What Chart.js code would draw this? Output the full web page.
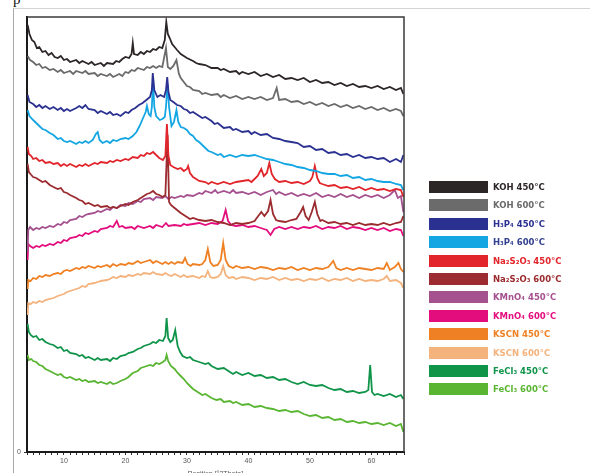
<!DOCTYPE html>
<html>
<head>
<meta charset="utf-8">
<script src="https://cdn.jsdelivr.net/npm/chart.js@4"></script>
<style>
  body { margin: 0; background: #fff; }
  #wrap { position: relative; width: 590px; height: 473px; overflow: hidden; background: #fff; }
  #chart { position: absolute; left: 0; top: 0; }
  #frame { position: absolute; left: 13px; top: 8px; width: 577px; height: 470px;
           border-top: 1px solid #d4d4d4; border-left: 1px solid #a8a8a8; }
  #cap { position: absolute; left: 13px; top: -9px; font: 15px "Liberation Serif", serif; color: #111; }
  #legend { position: absolute; left: 429px; top: 181px; }
  .row { position: absolute; left: 0; height: 12px; display: flex; align-items: center; white-space: nowrap; }
  .box { width: 59px; height: 12px; margin-right: 5px; }
  .lab { font: bold 8.5px "DejaVu Sans", sans-serif; }
</style>
</head>
<body>
<div id="wrap">
  <div id="frame"></div>
  <div id="cap">p</div>
  <canvas id="chart" width="590" height="480"></canvas>
  <div id="legend"></div>
</div>
<script>
// series names, legend order top to bottom
const seriesNames = ['KOH 450°C', 'KOH 600°C', 'H₃P₄ 450°C', 'H₃P₄ 600°C', 'Na₂S₂O₃ 450°C', 'Na₂S₂O₃ 600°C',
  'KMnO₄ 450°C', 'KMnO₄ 600°C', 'KSCN 450°C', 'KSCN 600°C', 'FeCl₃ 450°C', 'FeCl₃ 600°C'];
const lineColors = ['#2d2627', '#6b6b6b', '#2b3190', '#14a6e3', '#e2252b', '#9b2b2f',
  '#a5508f', '#e40d7e', '#ef8023', '#f4b27c', '#0f9449', '#5ab632'];
const textColors = ['#2d2627', '#6b6b6b', '#2b3190', '#33408f', '#e2252b', '#9b2b2f',
  '#a5508f', '#e40d7e', '#ef8023', '#f4b27c', '#0f9449', '#5ab632'];

// [2theta, counts]
const koh450 = [[4.1,427],[4.4,418],[4.8,412],[5.2,410],[5.6,404],[6,405],[6.5,400],[7,401],[7.5,397],[8,399],[8.5,395],[9,394],[9.5,396],[10,392],[10.5,393],[11,390],[12,392],[12.5,389],[13,391],[14,388],[14.5,390],[15,387],[16,389],[16.5,386],[17,389],[18,388],[18.5,391],[19,390],[19.5,393],[20,395],[20.6,394],[21,398],[21.2,409],[21.4,398],[22,397],[22.5,400],[23,398],[23.5,401],[24,400],[24.5,403],[25,402],[25.5,405],[26,404],[26.4,412],[26.65,430],[26.9,418],[27.2,414],[27.6,408],[28,405],[28.4,402],[29,398],[29.5,396],[30,394],[31,391],[31.5,389],[32,388],[33,387],[34,384],[35,384],[35.5,382],[36,383],[37,380],[38,381],[38.5,378],[39,380],[40,378],[41,380],[42,376],[43,378],[44,375],[45,377],[46,373],[47,374],[48,372],[49,374],[50,370],[51,372],[52,369],[53,370],[54,367],[55,369],[56,366],[57,368],[58,365],[59,366],[60,364],[61,366],[62,363],[63,365],[64,362],[64.8,364],[65.2,358]];
const koh600 = [[4.1,396],[4.5,392],[5,390],[5.5,387],[6,388],[6.5,384],[7,385],[7.7,382],[8.3,383],[9,380],[9.5,382],[10,379],[11,381],[11.5,378],[12,381],[13,379],[13.5,381],[14,378],[15,379],[15.5,376],[16,378],[17,376],[17.5,378],[18,375],[19,378],[19.5,376],[20,380],[20.5,379],[21,382],[21.5,381],[22,384],[23,382],[23.5,385],[24,384],[24.5,386],[25,384],[25.5,386],[26,385],[26.6,404],[26.9,385],[27.3,383],[27.8,386],[28.3,392],[28.7,378],[29,374],[29.5,370],[30,366],[30.5,365],[31,362],[32,361],[32.5,358],[33,359],[34,357],[35,358],[35.5,355],[36,357],[37,354],[38,356],[39,353],[40,355],[41,353],[42,355],[43,352],[44,354],[44.6,364],[45,352],[46,353],[47,350],[48,351],[49,348],[50,350],[51,347],[52,349],[53,346],[54,348],[55,345],[56,347],[57,344],[58,346],[59,343],[60,345],[61,342],[62,344],[63,341],[64,343],[64.8,341],[65.2,336]];
const h3p450 = [[4.1,357],[4.4,350],[5,348],[5.5,345],[6,347],[6.5,344],[7,346],[7.7,343],[8.3,345],[9,342],[9.5,344],[10,341],[10.5,343],[11,341],[12,344],[12.5,346],[13,344],[13.5,347],[14,343],[15,342],[15.5,339],[16,341],[17,338],[17.5,340],[18,337],[18.6,338],[19.2,336],[20,340],[20.5,339],[21,342],[21.6,344],[22.2,347],[22.8,349],[23.4,352],[24,355],[24.3,362],[24.45,379],[24.7,362],[25.2,355],[25.7,357],[26.3,355],[26.6,362],[26.8,375],[27,360],[27.3,352],[27.8,350],[28.4,347],[29,346],[29.5,343],[30,342],[30.5,339],[31,340],[32,336],[32.5,334],[33,335],[34,331],[34.5,328],[35,329],[36,324],[37,325],[37.5,322],[38,323],[39,320],[40,321],[40.5,318],[41,320],[42,317],[43,318],[44,314],[45,313],[46,311],[47,310],[48,309],[49,305],[50,306],[51,302],[52,303],[53,299],[54,300],[55,297],[56,298],[57,295],[58,297],[59,294],[60,295],[61,293],[62,294],[63,290],[64,293],[64.8,290],[65.2,297]];
const h3p600 = [[4.1,342],[4.4,336],[5,332],[5.5,329],[6,326],[6.5,323],[7,322],[7.7,319],[8.3,317],[9,313],[9.5,314],[10,311],[10.5,310],[11,311],[12,308],[12.5,310],[13,309],[13.5,311],[14,309],[14.7,312],[15.2,318],[15.5,320],[15.8,312],[16.3,309],[17,311],[17.5,309],[18,312],[18.6,311],[19.2,313],[20,314],[20.5,313],[21.2,316],[21.8,320],[22.3,326],[22.8,333],[23.3,340],[23.5,346],[23.8,338],[24.1,336],[24.3,345],[24.5,372],[24.7,345],[25,336],[25.6,332],[26,333],[26.4,335],[26.6,345],[26.85,368],[27.1,345],[27.5,326],[27.9,330],[28.3,342],[28.6,330],[29,325],[29.5,324],[30,322],[30.5,318],[31,316],[31.5,312],[32,310],[33,304],[33.5,301],[34,300],[35,297],[35.5,298],[36,295],[37,297],[38,295],[39,297],[40,296],[41,297],[42,295],[43,293],[44,292],[45,290],[46,288],[47,287],[48,285],[49,284],[50,282],[51,281],[52,279],[53,278],[54,278],[55,276],[56,277],[57,274],[58,275],[59,272],[60,273],[61,271],[62,270],[63,270],[64,268],[64.8,267],[65.2,262]];
const na450 = [[4.1,305],[4.3,298],[4.7,296],[5,293],[5.5,294],[6,291],[6.5,292],[7,289],[7.7,290],[8.3,288],[9,289],[9.5,286],[10,288],[10.5,286],[11,288],[12,285],[12.5,287],[13,286],[13.5,288],[14,286],[15,289],[15.5,288],[16,290],[17,289],[17.5,291],[18,290],[18.6,292],[19.2,291],[20,293],[20.5,292],[21.2,295],[22,294],[22.5,297],[23,296],[23.5,299],[24,298],[24.5,300],[25,297],[25.5,294],[26.1,292],[26.5,296],[26.75,328],[27,296],[27.3,287],[27.8,285],[28.5,283],[29,284],[29.5,281],[30,283],[30.2,286],[30.5,279],[31,275],[31.5,273],[32,271],[33,270],[33.5,268],[34,270],[35,268],[36,270],[37,268],[38,270],[39,271],[40,272],[40.5,270],[41,273],[41.5,276],[42.1,283],[42.5,276],[43,279],[43.4,289],[43.8,278],[44.3,273],[45,270],[46,271],[47,269],[48,270],[49,268],[50,271],[50.4,275],[50.8,286],[51.2,274],[51.6,269],[52,268],[53,266],[54,267],[55,264],[56,265],[57,263],[58,265],[59,262],[60,264],[61,262],[62,263],[63,261],[64,263],[64.8,262],[65.2,255]];
const na600 = [[4.1,288],[4.3,280],[4.7,277],[5,275],[5.5,274],[6,272],[6.5,270],[7,271],[7.7,267],[8.3,265],[9,263],[9.5,264],[10,260],[10.5,259],[11,257],[12,254],[12.5,252],[13,251],[13.5,248],[14,249],[15,246],[15.5,247],[16,245],[17,246],[17.5,244],[18,245],[18.6,244],[19.2,246],[20,248],[20.5,247],[21.2,250],[22,252],[22.5,254],[23,256],[23.5,258],[24,259],[24.5,261],[25,258],[25.5,257],[26.1,255],[26.5,257],[26.85,317],[27.1,250],[27.4,247],[28,244],[28.4,242],[29,239],[29.5,237],[30,235],[30.5,233],[31,234],[32,232],[33,231],[34,232],[35,230],[36,229],[37,227],[38,229],[39,228],[40,229],[41,231],[41.6,236],[42.1,240],[42.6,236],[43.2,241],[43.6,252],[44,238],[44.5,232],[45,231],[46,230],[47,232],[47.8,233],[48.5,240],[48.9,245],[49.3,236],[49.8,232],[50.3,240],[50.8,250],[51.2,238],[51.7,231],[52,232],[53,229],[54,230],[55,228],[56,229],[57,227],[58,229],[59,227],[60,228],[61,227],[62,229],[63,227],[64,229],[64.8,230],[65.2,236]];
const kmno450 = [[4.1,200],[4.2,222],[4.5,225],[5,222],[5.5,224],[6,223],[6.5,225],[7,224],[7.7,226],[8.3,225],[9,228],[9.5,227],[10,230],[10.5,229],[11,232],[12,233],[12.5,236],[13,235],[13.5,237],[14,238],[15,239],[15.5,241],[16,240],[17,243],[17.5,242],[18,245],[18.6,244],[19.2,247],[20,246],[20.5,249],[21.2,248],[22,251],[22.5,250],[23,253],[24,254],[24.5,252],[25,255],[26,254],[26.5,256],[27,253],[27.5,255],[28,254],[29,256],[29.5,255],[30,257],[31,256],[32,259],[32.5,258],[33,261],[34,259],[34.6,262],[35,259],[36,261],[37,259],[37.5,262],[38,259],[39,260],[40,258],[41,260],[42,257],[43,260],[44,262],[44.5,258],[45,260],[46,257],[47,259],[48,256],[49,258],[50,256],[51,259],[52,255],[53,257],[54,255],[55,258],[56,255],[57,257],[58,254],[59,257],[60,255],[61,257],[62,254],[63,257],[63.8,262],[64.3,254],[64.8,256],[65.2,240]];
const kmno600 = [[4.1,192],[4.2,208],[4.5,206],[5,204],[5.5,206],[6,205],[6.5,207],[7,206],[7.7,208],[8.3,207],[9,210],[9.5,209],[10,212],[10.5,211],[11,214],[12,215],[12.5,217],[13,216],[13.5,219],[14,218],[15,221],[15.5,220],[16,223],[17,224],[17.5,226],[18,225],[18.6,231],[19,225],[19.5,226],[20,224],[21,225],[21.5,223],[22,226],[23,224],[24,226],[24.5,224],[25,227],[26,225],[26.6,229],[27,226],[28,227],[29,226],[29.5,228],[30,227],[31,228],[32,229],[33,227],[34,229],[35,228],[35.8,231],[36.3,242],[36.7,231],[37.2,227],[38,226],[39,227],[40,225],[41,226],[42,224],[43,222],[43.6,217],[44.2,223],[45,225],[46,223],[47,225],[48,223],[49,225],[50,224],[51,226],[52,223],[53,225],[54,224],[55,226],[56,223],[57,225],[58,224],[59,222],[60,224],[61,222],[62,224],[63,221],[64,223],[64.8,222],[65.2,216]];
const kscn450 = [[4.1,163],[4.2,172],[4.6,171],[5,174],[5.5,173],[6,176],[6.5,175],[7,177],[7.7,176],[8.3,178],[9,179],[9.5,178],[10,181],[10.5,182],[11,181],[12,184],[12.5,183],[13,185],[13.5,184],[14,186],[15,184],[15.5,186],[16,185],[17,187],[17.5,185],[18,188],[18.6,186],[19.2,188],[20,187],[20.5,189],[21.2,188],[22,191],[22.5,189],[23,190],[24,192],[24.5,189],[25,191],[26,188],[26.5,190],[27,188],[27.5,190],[28,188],[28.5,190],[29.3,189],[29.7,194],[30.1,188],[30.6,186],[31,188],[32,187],[32.5,188],[33,192],[33.4,203],[33.8,190],[34.3,186],[35,187],[35.5,192],[35.9,209],[36.3,192],[36.8,186],[37.5,184],[38,186],[39,184],[40,185],[41,183],[42,185],[43,184],[44,182],[45,184],[46,183],[47,185],[48,182],[49,184],[50,182],[51,184],[52,183],[53,185],[53.8,191],[54.3,184],[55,182],[56,184],[57,182],[58,184],[59,183],[60,182],[61,184],[62,183],[62.5,189],[63,182],[63.8,185],[64.4,189],[64.8,183],[65.2,180]];
const kscn600 = [[4.1,137],[4.2,149],[4.6,148],[5,150],[5.5,149],[6,151],[6.5,150],[7,152],[7.7,153],[8.3,154],[9,156],[9.5,157],[10,158],[10.5,160],[11,161],[12,163],[12.5,164],[13,166],[13.5,165],[14,168],[15,169],[15.5,170],[16,171],[17,172],[17.5,173],[18,175],[18.6,174],[19.2,176],[20,175],[20.5,177],[21.2,176],[22,178],[22.5,177],[23,179],[24,178],[24.5,180],[25,178],[26,177],[26.5,179],[27,177],[27.5,176],[28,178],[29,175],[29.5,177],[30,175],[31,176],[32,174],[32.5,176],[33,175],[33.4,181],[33.8,175],[34.3,174],[35,175],[35.5,178],[35.9,186],[36.3,177],[36.8,174],[37.5,175],[38,173],[39,175],[40,174],[41,172],[42,174],[43,173],[44,175],[45,172],[46,174],[47,172],[48,173],[49,171],[50,173],[51,172],[52,174],[53,171],[54,173],[55,172],[56,174],[57,171],[58,173],[59,171],[60,172],[61,171],[62,173],[62.5,176],[63,171],[64,172],[64.8,169],[65.2,164]];
const fecl450 = [[4.1,128],[4.3,120],[4.6,117],[5,115],[5.5,116],[6,112],[6.5,113],[7,110],[7.7,108],[8.3,107],[9,104],[9.5,105],[10,101],[10.5,102],[11,99],[12,98],[12.5,96],[13,97],[13.5,94],[14,95],[15,92],[15.5,94],[16,92],[17,93],[17.5,91],[18,94],[18.6,93],[19.2,96],[20,97],[20.5,99],[21.2,100],[22,103],[22.5,104],[23,106],[24,108],[24.5,110],[25,109],[25.5,112],[26.1,111],[26.5,116],[26.7,134],[26.95,114],[27.3,110],[27.7,112],[28.1,122],[28.5,106],[28.9,100],[29.3,96],[30,94],[30.5,95],[31,92],[32,90],[33,88],[33.5,89],[34,86],[35,83],[36,84],[37,80],[37.5,78],[38,80],[39,77],[40,79],[41,76],[42,77],[43,74],[44,75],[45,72],[46,73],[47,70],[48,68],[49,70],[50,67],[51,66],[52,67],[53,64],[54,62],[55,63],[56,60],[57,61],[58,59],[59,60],[59.5,62],[59.8,87],[60.1,60],[60.5,57],[61,58],[62,56],[63,58],[64,55],[64.8,57],[65.2,53]];
const fecl600 = [[4.1,97],[4.3,92],[4.7,93],[5,91],[5.5,90],[6,87],[6.5,86],[7,83],[7.7,81],[8.3,79],[9,77],[9.5,78],[10,75],[10.5,74],[11,75],[12,72],[12.5,73],[13,71],[13.5,72],[14,70],[15,71],[15.5,69],[16,70],[17,68],[17.5,70],[18,68],[18.6,69],[19.2,71],[20,73],[20.5,75],[21.2,79],[22,81],[22.5,84],[23,85],[24,87],[24.5,86],[25,89],[25.5,88],[26.1,90],[26.5,92],[26.7,97],[26.95,91],[27.4,86],[28,83],[28.5,79],[29,76],[29.5,73],[30,69],[30.5,66],[31,63],[32,59],[32.5,57],[33,58],[34,54],[34.8,52],[35.5,53],[36,50],[37,51],[37.5,49],[38,50],[39,47],[40,48],[41,45],[42,46],[43,44],[44,43],[45,41],[46,42],[47,40],[48,41],[49,38],[50,36],[51,37],[52,34],[53,35],[54,32],[55,33],[56,30],[57,31],[58,29],[59,30],[60,28],[61,29],[62,27],[63,29],[64,26],[64.8,28],[65.2,20]];

const allSeries = [koh450, koh600, h3p450, h3p600, na450, na600, kmno450, kmno600, kscn450, kscn600, fecl450, fecl600];

// dark frame around the plot area (top and right sides are thinner)
const plotFrame = {
    id: 'plotFrame',
    afterDraw(chart) {
        const a = chart.chartArea, c = chart.ctx;
        c.save();
        c.strokeStyle = '#3a3a3a';
        c.lineWidth = 1.5;
        c.beginPath();
        c.moveTo(a.left, a.top);
        c.lineTo(a.right, a.top);
        c.lineTo(a.right, a.bottom);
        c.stroke();
        c.restore();
    }
};

const ctx = document.getElementById('chart');
new Chart(ctx, {
    type: 'line',
    data: {
        datasets: allSeries.map((s, i) => ({
            label: seriesNames[i],
            data: s.map(p => ({ x: p[0], y: p[1] })),
            borderColor: lineColors[i],
            borderWidth: 1.8,
            pointRadius: 0,
            tension: 0
        }))
    },
    options: {
        responsive: false,
        animation: false,
        layout: { padding: { left: 15, right: 186, top: 17, bottom: 0 } },
        plugins: { legend: { display: false }, tooltip: { enabled: false } },
        scales: {
            x: {
                type: 'linear', min: 4, max: 65.3,
                afterFit: s => { s.height = 28; },
                ticks: {
                    stepSize: 1, autoSkip: false, maxRotation: 0, padding: 2,
                    color: '#555', font: { size: 7, family: 'Arial, "Liberation Sans"' },
                    callback: v => (v % 10 === 0 ? v : '')
                },
                grid: { drawOnChartArea: false, tickLength: 3, color: '#333' },
                border: { color: '#1a1a1a', width: 2 },
                title: {
                    display: true, text: 'Position [°2Theta]', color: '#555',
                    font: { size: 7, family: 'Arial, "Liberation Sans"' }, padding: { top: 1, bottom: 2 }
                }
            },
            y: {
                min: 0, max: 435,
                afterFit: s => { s.width = 12; },
                ticks: {
                    stepSize: 435, padding: 3, color: '#555',
                    font: { size: 7, family: 'Arial, "Liberation Sans"' },
                    callback: v => (v === 0 ? '0' : '')
                },
                grid: {
                    drawOnChartArea: false, tickLength: 3,
                    color: c => (c.tick && c.tick.value === 0 ? '#333' : 'rgba(0,0,0,0)')
                },
                border: { color: '#1a1a1a', width: 2 }
            }
        }
    },
    plugins: [plotFrame]
});

// legend drawn next to the plot
const legend = document.getElementById('legend');
seriesNames.forEach((name, i) => {
    const row = document.createElement('div');
    row.className = 'row';
    row.style.top = (i * 18.4) + 'px';
    row.innerHTML = '<div class="box" style="background:' + lineColors[i] + '"></div>' +
        '<span class="lab" style="color:' + textColors[i] + '">' + name + '</span>';
    legend.appendChild(row);
});
</script>
</body>
</html>
